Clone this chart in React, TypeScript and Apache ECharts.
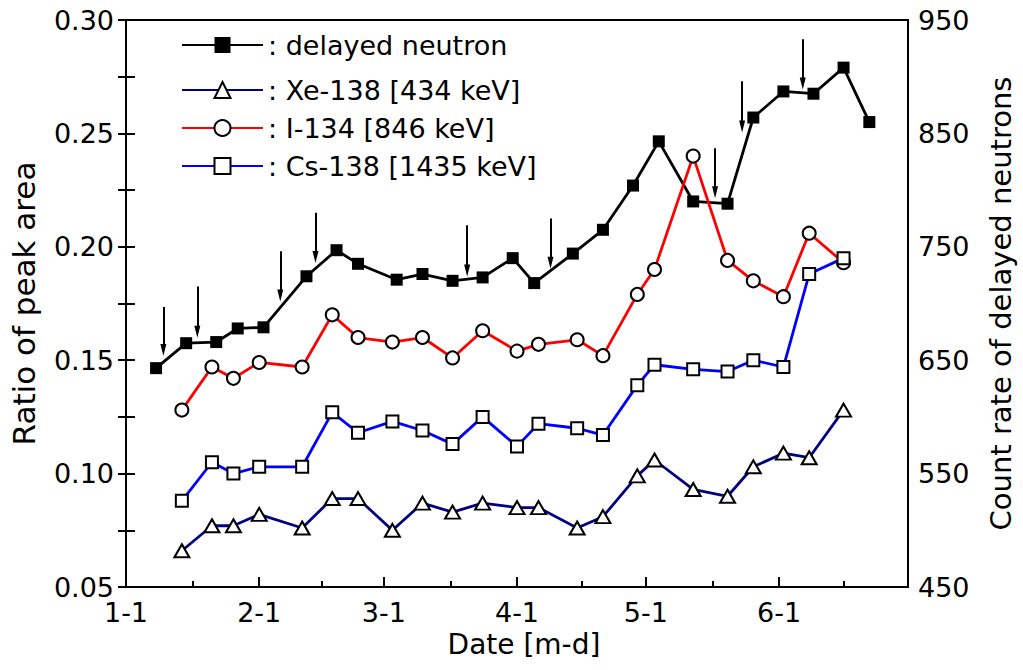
import React, { useEffect, useRef } from "react";
import * as echarts from "echarts";

const FONT = "'DejaVu Sans', sans-serif";

// x axis: days since Jan 1 (leap year)
const monthTickDays = [0, 31, 60, 91, 121, 152];
const monthTickLabels = ["1-1", "2-1", "3-1", "4-1", "5-1", "6-1"];
const midMonthDays = [15.5, 45.5, 75.5, 106, 136.5, 167];
const xMaxDay = 182;

// delayed neutron count rate (right axis)
const neutronDays = [7, 14, 21, 26, 32, 42, 49, 54, 63, 69, 76, 83, 90, 95, 104, 111, 118, 124, 132, 140, 146, 153, 160, 167, 173];
const neutronCounts = [643, 665, 666, 678, 679, 724, 747, 735, 721, 726, 720, 723, 740, 718, 744, 765, 804, 843, 790, 788, 864, 887, 885, 908, 860];

// peak area ratios (left axis)
const ratioDays = [13, 20, 25, 31, 41, 48, 54, 62, 69, 76, 83, 91, 96, 105, 111, 119, 123, 132, 140, 146, 153, 159, 167];
const xe138 = [0.066, 0.077, 0.077, 0.082, 0.076, 0.089, 0.089, 0.075, 0.087, 0.083, 0.087, 0.085, 0.085, 0.076, 0.081, 0.099, 0.106, 0.093, 0.090, 0.103, 0.109, 0.107, 0.128];
const i134 = [0.128, 0.147, 0.142, 0.149, 0.147, 0.170, 0.160, 0.158, 0.160, 0.151, 0.163, 0.154, 0.157, 0.159, 0.152, 0.179, 0.190, 0.240, 0.194, 0.185, 0.178, 0.206, 0.193];
const cs138 = [0.088, 0.105, 0.100, 0.103, 0.103, 0.127, 0.118, 0.123, 0.119, 0.113, 0.125, 0.112, 0.122, 0.120, 0.117, 0.139, 0.148, 0.146, 0.145, 0.150, 0.147, 0.188, 0.195];

// arrow annotations (day, count at top, count at tip)
const arrowDays = [8.7, 16.6, 35.9, 44.1, 79.4, 98.8, 137.1, 143.4, 157.5];
const arrowTops = [697, 715, 746, 780, 769, 775, 837, 896, 933];
const arrowTips = [659, 675, 707, 741, 729, 736, 798, 856, 894];

const pairs = (xs: number[], ys: number[]) => xs.map((x, i) => [x, ys[i]]);

export default function App() {
  const ref = useRef<HTMLDivElement>(null);
  useEffect(() => {
    const chart = echarts.init(ref.current!, null, { renderer: "svg" });
    const axisLine = { show: true, lineStyle: { color: "#000", width: 2 } };
    const txt = { color: "#000", fontFamily: FONT };
    const openItem = { color: "#fff", borderColor: "#000", borderWidth: 2 };
    const LW = 2.8;
    const option: any = {
      animation: false,
      backgroundColor: "#fff",
      textStyle: { fontFamily: FONT },
      grid: {
        left: 125, right: 110, top: 20, bottom: 83,
        show: true, borderColor: "#000", borderWidth: 2, backgroundColor: "transparent",
      },
      legend: [
        {
          data: ["delayed neutron"],
          orient: "vertical", left: 181, top: 31.5, padding: 0,
          itemWidth: 81, itemHeight: 20,
          formatter: (n: string) => ": " + n,
          textStyle: { ...txt, fontSize: 27 },
        },
        {
          data: ["Xe-138 [434 keV]", "I-134 [846 keV]", "Cs-138 [1435 keV]"],
          orient: "vertical", left: 181, top: 76.5, padding: 0, itemGap: 11,
          itemWidth: 81, itemHeight: 20,
          formatter: (n: string) => ": " + n,
          textStyle: { ...txt, fontSize: 27 },
        },
      ],
      xAxis: [
        {
          type: "value", min: 0, max: xMaxDay, position: "bottom",
          axisLine,
          splitLine: { show: false },
          axisTick: { show: true, inside: true, length: 10, customValues: monthTickDays, lineStyle: { color: "#000", width: 2 } },
          axisLabel: {
            ...txt, fontSize: 27, margin: 12, customValues: monthTickDays,
            formatter: (v: number) => monthTickLabels[monthTickDays.indexOf(v)] ?? "",
          },
          name: "Date [m-d]", nameLocation: "middle", nameGap: 40,
          nameTextStyle: { ...txt, fontSize: 28, padding: [0, 0, 0, 14] },
        },
        {
          type: "value", min: 0, max: xMaxDay, position: "bottom",
          axisLine: { show: false },
          splitLine: { show: false },
          axisLabel: { show: false },
          axisTick: { show: true, inside: true, length: 6, customValues: midMonthDays, lineStyle: { color: "#000", width: 2 } },
        },
      ],
      yAxis: [
        {
          type: "value", min: 0.05, max: 0.3, interval: 0.025, position: "left",
          axisLine,
          splitLine: { show: false },
          axisTick: { show: true, inside: true, length: 9, lineStyle: { color: "#000", width: 2 } },
          axisLabel: {
            ...txt, fontSize: 27, margin: 12,
            formatter: (v: number) => (Math.round(v * 1000) % 50 === 0 ? v.toFixed(2) : ""),
          },
          name: "Ratio of peak area", nameLocation: "middle", nameRotate: 90, nameGap: 87,
          nameTextStyle: { ...txt, fontSize: 31 },
        },
        {
          type: "value", min: 450, max: 950, interval: 50, position: "right",
          axisLine,
          splitLine: { show: false },
          axisTick: { show: true, inside: true, length: 8, lineStyle: { color: "#000", width: 2 } },
          axisLabel: {
            ...txt, fontSize: 27, margin: 10,
            formatter: (v: number) => ((Math.round(v) - 450) % 100 === 0 ? String(Math.round(v)) : ""),
          },
          name: "Count rate of delayed neutrons", nameLocation: "middle", nameRotate: 90, nameGap: 78,
          nameTextStyle: { ...txt, fontSize: 29 },
        },
      ],
      series: [
        {
          name: "delayed neutron", type: "line", xAxisIndex: 0, yAxisIndex: 1,
          data: pairs(neutronDays, neutronCounts),
          symbol: "rect", symbolSize: 12,
          itemStyle: { color: "#000" },
          lineStyle: { color: "#000", width: LW },
          markLine: {
            silent: true, animation: false,
            symbol: ["none", "triangle"], symbolSize: [6, 12],
            label: { show: false },
            lineStyle: { color: "#000", width: 2, type: "solid" },
            data: arrowDays.map((d, i) => [{ coord: [d, arrowTops[i]] }, { coord: [d, arrowTips[i]] }]),
          },
        },
        {
          name: "Xe-138 [434 keV]", type: "line", xAxisIndex: 0, yAxisIndex: 0,
          data: pairs(ratioDays, xe138),
          symbol: "triangle", symbolSize: [15, 13],
          itemStyle: openItem,
          lineStyle: { color: "#000080", width: LW },
        },
        {
          name: "I-134 [846 keV]", type: "line", xAxisIndex: 0, yAxisIndex: 0,
          data: pairs(ratioDays, i134),
          symbol: "circle", symbolSize: 13,
          itemStyle: openItem,
          lineStyle: { color: "#ff0000", width: LW },
        },
        {
          name: "Cs-138 [1435 keV]", type: "line", xAxisIndex: 0, yAxisIndex: 0,
          data: pairs(ratioDays, cs138),
          symbol: "rect", symbolSize: 12,
          itemStyle: openItem,
          lineStyle: { color: "#0000ff", width: LW },
        },
      ],
    };
    chart.setOption(option);
    return () => chart.dispose();
  }, []);
  return (
    <div
      ref={ref}
      style={{ position: "fixed", left: 0, top: 0, width: 1023, height: 670, background: "#fff" }}
    />
  );
}
